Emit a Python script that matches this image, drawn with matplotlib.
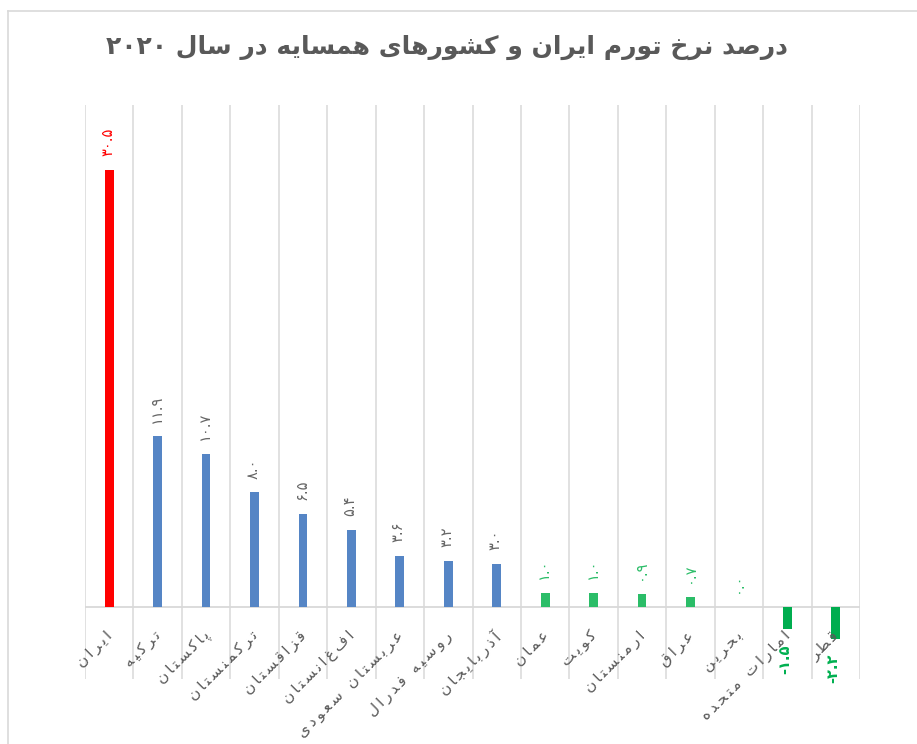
import re
import matplotlib
matplotlib.use("Agg")
from matplotlib import pyplot as plt
from matplotlib.lines import Line2D

plt.rcParams['font.family'] = ['DejaVu Sans']

# data
title = 'درصد نرخ تورم ایران و کشورهای همسایه در سال ۲۰۲۰'
countries = ['ایران', 'ترکیه', 'پاکستان', 'ترکمنستان', 'قزاقستان', 'افغانستان',
             'عربستان سعودی', 'روسیه فدرال', 'آذربایجان', 'عمان', 'کویت',
             'ارمنستان', 'عراق', 'بحرین', 'امارات متحده', 'قطر']
inflation = [30.5, 11.9, 10.7, 8.0, 6.5, 5.4, 3.6, 3.2, 3.0,
             1.0, 1.0, 0.9, 0.7, 0.0, -1.5, -2.2]
groups = ['iran'] + ['high'] * 8 + ['low'] * 5 + ['neg'] * 2

bar_colors = {'iran': '#FF0000', 'high': '#5585C5', 'low': '#2BBD68', 'neg': '#00AD4F'}
text_colors = {'iran': '#FF0000', 'high': '#666666', 'low': '#2BBD68', 'neg': '#00B050'}

# arabic presentation forms: isolated, final, initial, medial
FORMS = {
    'ا': ('\uFE8D', '\uFE8E'), 'آ': ('\uFE81', '\uFE82'),
    'ب': ('\uFE8F', '\uFE90', '\uFE91', '\uFE92'), 'پ': ('\uFB56', '\uFB57', '\uFB58', '\uFB59'),
    'ت': ('\uFE95', '\uFE96', '\uFE97', '\uFE98'), 'ج': ('\uFE9D', '\uFE9E', '\uFE9F', '\uFEA0'),
    'ح': ('\uFEA1', '\uFEA2', '\uFEA3', '\uFEA4'), 'خ': ('\uFEA5', '\uFEA6', '\uFEA7', '\uFEA8'),
    'د': ('\uFEA9', '\uFEAA'), 'ذ': ('\uFEAB', '\uFEAC'),
    'ر': ('\uFEAD', '\uFEAE'), 'ز': ('\uFEAF', '\uFEB0'),
    'س': ('\uFEB1', '\uFEB2', '\uFEB3', '\uFEB4'), 'ش': ('\uFEB5', '\uFEB6', '\uFEB7', '\uFEB8'),
    'ص': ('\uFEB9', '\uFEBA', '\uFEBB', '\uFEBC'), 'ط': ('\uFEC1', '\uFEC2', '\uFEC3', '\uFEC4'),
    'ع': ('\uFEC9', '\uFECA', '\uFECB', '\uFECC'), 'ف': ('\uFED1', '\uFED2', '\uFED3', '\uFED4'),
    'ق': ('\uFED5', '\uFED6', '\uFED7', '\uFED8'), 'ک': ('\uFB8E', '\uFB8F', '\uFB90', '\uFB91'),
    'گ': ('\uFB92', '\uFB93', '\uFB94', '\uFB95'), 'ل': ('\uFEDD', '\uFEDE', '\uFEDF', '\uFEE0'),
    'م': ('\uFEE1', '\uFEE2', '\uFEE3', '\uFEE4'), 'ن': ('\uFEE5', '\uFEE6', '\uFEE7', '\uFEE8'),
    'ه': ('\uFEE9', '\uFEEA', '\uFEEB', '\uFEEC'), 'و': ('\uFEED', '\uFEEE'),
    'ی': ('\uFBFC', '\uFBFD', '\uFBFE', '\uFBFF'),
}


def fa(text):
    out = []
    prev_dual = False
    i = 0
    while i < len(text):
        c = text[i]
        if c == 'ل' and i + 1 < len(text) and text[i + 1] in 'اآ':
            lig = ('\uFEFB', '\uFEFC') if text[i + 1] == 'ا' else ('\uFEF5', '\uFEF6')
            out.append(lig[1] if prev_dual else lig[0])
            prev_dual = False
            i += 2
            continue
        if c not in FORMS:
            out.append(c)
            prev_dual = False
            i += 1
            continue
        f = FORMS[c]
        nxt = text[i + 1] if i + 1 < len(text) else ''
        jn = len(f) == 4 and nxt in FORMS
        if prev_dual and jn:
            g = f[3]
        elif prev_dual:
            g = f[1]
        elif jn:
            g = f[2]
        else:
            g = f[0]
        out.append(g)
        prev_dual = len(f) == 4
        i += 1
    s = ''.join(out)[::-1]
    # digits stay left to right
    return re.sub(r'[۰-۹.]+', lambda m: m.group(0)[::-1], s)


def fa_num(v):
    return f'{v:.1f}'.translate(str.maketrans('0123456789', '۰۱۲۳۴۵۶۷۸۹'))


fig = plt.figure(figsize=(9.17, 7.44), dpi=100)
ax = fig.add_axes([85 / 917, 65 / 744, 775 / 917, 574 / 744])

x = range(len(countries))
ax.bar(x, inflation, width=0.18, color=[bar_colors[g] for g in groups], zorder=3)

ax.set_xlim(-0.5, len(countries) - 0.5)
ax.set_ylim(-5, 35)
for k in range(len(countries) + 1):
    ax.axvline(k - 0.5, color='#D9D9D9', lw=1.1, zorder=1)
ax.axhline(0, color='#D9D9D9', lw=1.3, zorder=2)
for s in ax.spines.values():
    s.set_visible(False)
ax.set_xticks([])
ax.set_yticks([])

for i, (v, g) in enumerate(zip(inflation, groups)):
    if v >= 0:
        ax.annotate(fa_num(v), (i, v), xytext=(-1, 10), textcoords='offset points',
                    rotation=90, ha='center', va='bottom', fontsize=10.5,
                    color=text_colors[g])
    else:
        ax.annotate(fa_num(v), (i, v), xytext=(-2, -11), textcoords='offset points',
                    rotation=90, ha='center', va='top', fontsize=10.5,
                    color=text_colors[g], fontweight='bold')

# letter-spaced category labels like the original
for i, name in enumerate(countries):
    ax.annotate('\u2009'.join(fa(name)), (i, 0), xytext=(-3, -15), textcoords='offset points',
                rotation=45, rotation_mode='anchor', ha='right', va='top',
                fontsize=11, color='#595959', annotation_clip=False)

fig.text(447 / 917, 1 - 47 / 744, fa(title), ha='center', va='center',
         fontsize=18, fontweight='bold', color='#595959')

# chart frame
fig.add_artist(Line2D([8 / 917, 8 / 917], [0, 1 - 11 / 744], color='#D9D9D9', lw=1.2))
fig.add_artist(Line2D([8 / 917, 1], [1 - 11 / 744, 1 - 11 / 744], color='#D9D9D9', lw=1.2))

fig.savefig('out.png', dpi=100)
